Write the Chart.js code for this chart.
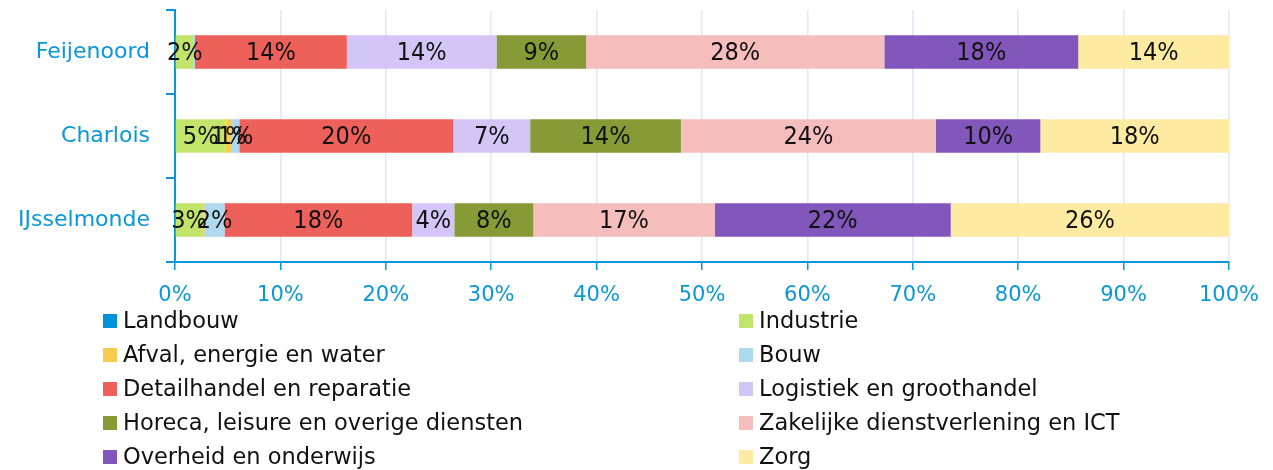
<!DOCTYPE html>
<html>
<head>
<meta charset="utf-8">
<script src="https://cdn.jsdelivr.net/npm/chart.js@4.4.0/dist/chart.umd.min.js"></script>
<style>
body { margin: 0; background: #fff; }
</style>
</head>
<body>
<canvas id="myChart" width="1273" height="470"></canvas>
<script>
// districts (rows) and sector shares in %, order: Feijenoord, Charlois, IJsselmonde
const districts = ["Feijenoord", "Charlois", "IJsselmonde"];
const sectorNames = [
  "Landbouw", "Industrie", "Afval, energie en water", "Bouw",
  "Detailhandel en reparatie", "Logistiek en groothandel",
  "Horeca, leisure en overige diensten", "Zakelijke dienstverlening en ICT",
  "Overheid en onderwijs", "Zorg"
];
const landbouw   = [0, 0, 0];
const industrie  = [1.8, 4.8, 2.6];
const afval      = [0, 0.6, 0.2];
const bouw       = [0.1, 0.7, 1.9];
const detail     = [14.4, 20.3, 17.8];
const logistiek  = [14.2, 7.3, 4.0];
const horeca     = [8.5, 14.3, 7.5];
const zakelijk   = [28.3, 24.2, 17.2];
const overheid   = [18.4, 9.9, 22.4];
const zorg       = [14.3, 17.9, 26.4];
const xTicks = [0, 10, 20, 30, 40, 50, 60, 70, 80, 90, 100];

const seriesValues = [landbouw, industrie, afval, bouw, detail, logistiek, horeca, zakelijk, overheid, zorg];
const colors = ["#0092d8", "#c3e46b", "#f7cc4f", "#afd9ef", "#ee605a",
                "#d4c5f7", "#879a35", "#f5bdbc", "#8257bb", "#fdeba1"];
const blue = "#0a97d9";

// labels in the middle of each segment
const barLabels = {
  id: "barLabels",
  afterDatasetsDraw(chart) {
    const ctx = chart.ctx;
    ctx.save();
    ctx.font = "25px 'DejaVu Sans Condensed', 'DejaVu Sans'";
    if ("fontStretch" in ctx) ctx.fontStretch = "condensed";
    ctx.fillStyle = "#111";
    ctx.textAlign = "center";
    ctx.textBaseline = "middle";
    chart.data.datasets.forEach((ds, i) => {
      const meta = chart.getDatasetMeta(i);
      meta.data.forEach((bar, j) => {
        const v = Math.round(ds.data[j]);
        if (v < 1) return;
        ctx.fillText(v + "%", (bar.x + bar.base) / 2, bar.y + 1);
      });
    });
    ctx.restore();
  }
};

// legend in two columns under the axis
const twoColLegend = {
  id: "twoColLegend",
  afterDraw(chart) {
    const ctx = chart.ctx;
    ctx.save();
    ctx.font = "22.5px 'DejaVu Sans'";
    ctx.textBaseline = "middle";
    ctx.textAlign = "left";
    chart.data.datasets.forEach((ds, i) => {
      const x = i % 2 === 0 ? 103 : 739;
      const y = 321 + Math.floor(i / 2) * 34;
      ctx.fillStyle = ds.backgroundColor;
      ctx.fillRect(x, y - 7, 14, 14);
      ctx.fillStyle = "#111";
      ctx.fillText(ds.label, x + 20, y + 1);
    });
    ctx.restore();
  }
};

const ctx = document.getElementById("myChart").getContext("2d");
const chart = new Chart(ctx, {
  type: "bar",
  data: {
    labels: districts,
    datasets: sectorNames.map((name, i) => ({
      label: name,
      data: seriesValues[i],
      backgroundColor: colors[i],
      borderWidth: 0,
      barPercentage: 0.4,
      categoryPercentage: 1
    }))
  },
  options: {
    indexAxis: "y",
    responsive: false,
    devicePixelRatio: 1,
    animation: false,
    layout: { padding: { top: 10, right: 44, bottom: 168, left: 0 } },
    plugins: {
      legend: { display: false },
      tooltip: { enabled: false }
    },
    scales: {
      x: {
        stacked: true,
        min: 0,
        max: 100,
        afterBuildTicks: s => { s.ticks = xTicks.map(v => ({ value: v })); },
        afterFit: s => { s.height = 40; },
        ticks: {
          color: blue,
          font: { family: "'DejaVu Sans'", size: 21 },
          padding: 13,
          callback: v => v + "%"
        },
        grid: { color: "#e1e9f4", tickColor: blue, tickLength: 8, lineWidth: 1.5 },
        border: { color: blue, width: 2 }
      },
      y: {
        stacked: true,
        afterFit: s => { s.width = 175; s.paddingTop = 0; s.paddingBottom = 0; },
        ticks: {
          color: blue,
          font: { family: "'DejaVu Sans'", size: 22 },
          padding: 16
        },
        grid: { drawOnChartArea: false, color: blue, tickLength: 9, lineWidth: 2, offset: true },
        border: { color: blue, width: 2 }
      }
    }
  },
  plugins: [barLabels, twoColLegend]
});
</script>
</body>
</html>
